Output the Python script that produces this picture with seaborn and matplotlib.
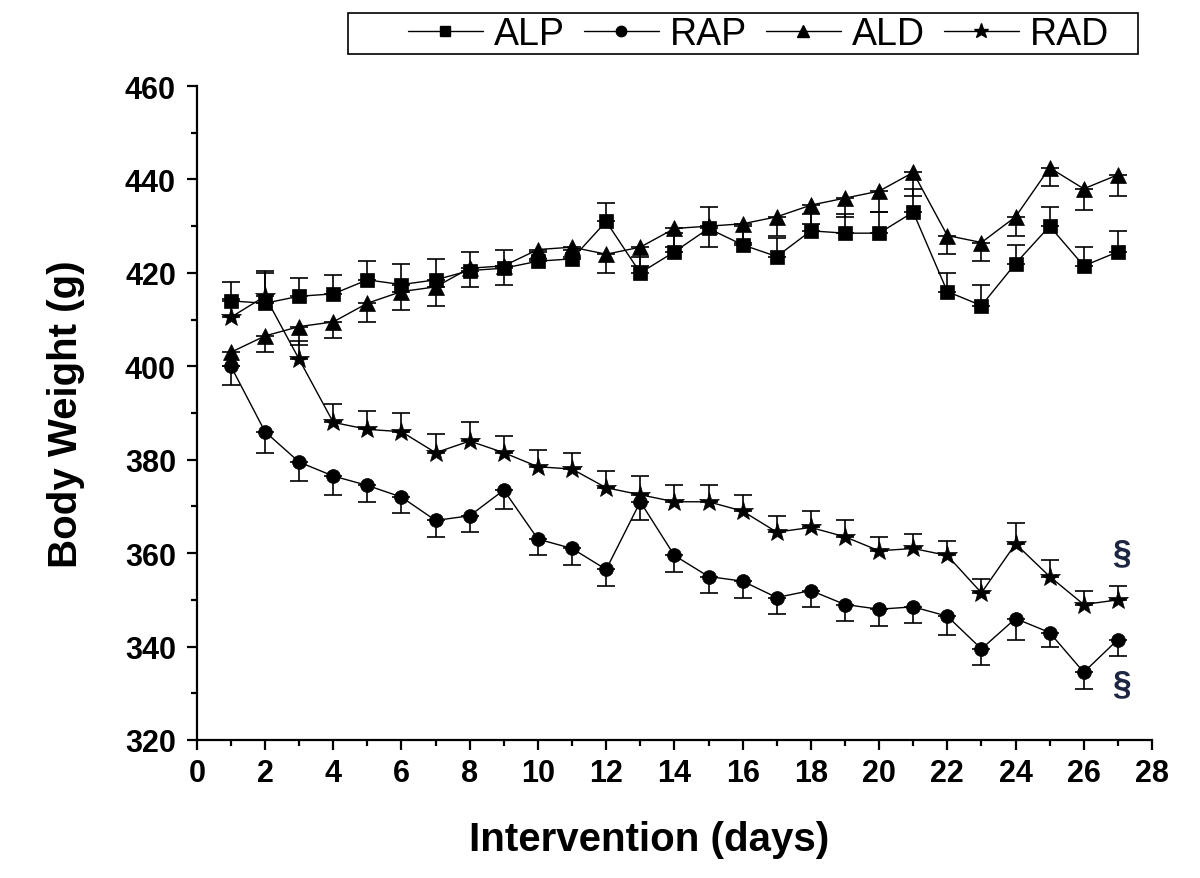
import numpy as np
import pandas as pd
from matplotlib import pyplot as plt
from matplotlib.lines import Line2D
from matplotlib.patches import Rectangle
from matplotlib.ticker import MultipleLocator
import seaborn as sns

days = list(range(1, 28))

# mean body weight (g) per group
alp = [414, 413.5, 415, 415.5, 418.5, 417.5, 418.5, 420.5, 421, 422.5, 423, 431, 420, 424.5,
       429.5, 426, 423.5, 429, 428.5, 428.5, 433, 416, 413, 422, 430, 421.5, 424.5]
rap = [400, 386, 379.5, 376.5, 374.5, 372, 367, 368, 373.5, 363, 361, 356.5, 371, 359.5,
       355, 354, 350.5, 352, 349, 348, 348.5, 346.5, 339.5, 346, 343, 334.5, 341.5]
ald = [403, 406.5, 408.5, 409.5, 413.5, 416, 417, 421, 421.5, 425, 425.5, 424, 425.5, 429.5,
       430, 430.5, 432, 434.5, 436, 437.5, 441.5, 428, 426.5, 432, 442.5, 438, 441]
rad = [410.5, 415, 401.5, 388, 386.5, 386, 381.5, 384, 381.5, 378.5, 378, 374, 372.5, 371,
       371, 369, 364.5, 365.5, 363.5, 360.5, 361, 359.5, 351.5, 362, 355, 349, 350]

# SEM (g), drawn one-sided in the original figure
alp_err = [4, 7, 4, 4, 4, 4.3, 4.5, 4, 4, 2, 2, 4, 3.5, 4, 4.5, 4, 4, 3.5, 4, 4.5, 5, 4, 4.3, 4, 4, 4, 4.5]
rap_err = [4, 4.5, 4, 4, 3.5, 3.5, 3.5, 3.5, 4, 3.5, 3.5, 3.5, 4, 3.5, 3.5, 3.5, 3.5, 3.5, 3.5, 3.5, 3.5, 4, 3.5, 4.5, 3, 3.5, 3.5]
ald_err = [3, 3.5, 4, 3.5, 4, 4, 4, 4, 4, 2, 2, 4, 4, 4, 4.5, 4, 4, 4, 4, 4.5, 5, 4, 4, 4, 4, 4.5, 4.5]
rad_err = [4, 5, 4, 4, 4, 4, 4, 4, 3.5, 3.5, 3.5, 3.5, 4, 3.5, 3.5, 3.5, 3.5, 3.5, 3.5, 3, 3, 3, 3, 4.5, 3.5, 3, 3]

groups = ['ALP', 'RAP', 'ALD', 'RAD']
means = {'ALP': alp, 'RAP': rap, 'ALD': ald, 'RAD': rad}
errs = {'ALP': alp_err, 'RAP': rap_err, 'ALD': ald_err, 'RAD': rad_err}
# which side the error bar is drawn on
err_up = {'ALP': True, 'RAP': False, 'ALD': False, 'RAD': True}
markers = {'ALP': 's', 'RAP': 'o', 'ALD': '^', 'RAD': '*'}
msizes = {'ALP': 10.5, 'RAP': 10, 'ALD': 11.5, 'RAD': 15}

df = pd.DataFrame({
    'day': days * 4,
    'weight': alp + rap + ald + rad,
    'group': np.repeat(groups, len(days)),
})

sns.set_style("ticks", {'text.color': 'black', 'xtick.color': 'black',
                        'ytick.color': 'black', 'axes.labelcolor': 'black',
                        'axes.edgecolor': 'black'})
plt.rcParams['font.family'] = ['Liberation Sans', 'DejaVu Sans']

fig = plt.figure(figsize=(12, 8.79), dpi=100)
ax = fig.add_axes([0.164, 0.157, 0.796, 0.744])

for g in groups:
    sub = df[df.group == g]
    sns.lineplot(data=sub, x='day', y='weight', ax=ax, color='black', linewidth=1,
                 marker=markers[g], markersize=msizes[g], markeredgecolor='black',
                 markeredgewidth=0.5, legend=False, zorder=3)
    e = np.array(errs[g])
    z = np.zeros_like(e)
    yerr = [z, e] if err_up[g] else [e, z]
    ax.errorbar(days, means[g], yerr=yerr, fmt='none', ecolor='black',
                elinewidth=1.2, capsize=6.5, capthick=1.2, zorder=2)

ax.set_xlim(0, 28)
ax.set_ylim(320, 460)
ax.xaxis.set_major_locator(MultipleLocator(2))
ax.xaxis.set_minor_locator(MultipleLocator(1))
ax.yaxis.set_major_locator(MultipleLocator(20))
ax.yaxis.set_minor_locator(MultipleLocator(10))
sns.despine(ax=ax)
for s in ['left', 'bottom']:
    ax.spines[s].set_linewidth(1.6)
ax.tick_params(which='major', direction='out', length=7, width=1.6, labelsize=22,
               colors='black')
ax.tick_params(axis='y', which='major', pad=8)
ax.tick_params(axis='x', which='major', pad=6)
ax.tick_params(which='minor', direction='out', length=4, width=1.6, colors='black')
for lab in ax.get_xticklabels() + ax.get_yticklabels():
    lab.set_fontweight('bold')

ax.set_xlabel('Intervention (days)', fontsize=29, fontweight='bold', color='black')
ax.set_ylabel('Body Weight (g)', fontsize=29, fontweight='bold', color='black')
ax.xaxis.set_label_coords(0.474, -0.123)
ax.yaxis.set_label_coords(-0.117, 0.50)

# significance marks
for yv in [360, 332]:
    ax.text(27.1, yv, '\u00a7', ha='center', va='center', fontsize=24,
            fontweight='bold', color='#1c2541')

# legend in a box above the plot
handles = [Line2D([], [], color='black', lw=1, marker=markers[g],
                  markersize=msizes[g] * 0.75) for g in groups]
fig.patches.append(Rectangle((0.29, 0.937), 0.658, 0.047, transform=fig.transFigure,
                             fill=False, edgecolor='black', lw=1.2))
fig.legend(handles, groups, loc='center', bbox_to_anchor=(0.632, 0.96), ncol=4,
           frameon=False, handlelength=2.0, handletextpad=0.3, columnspacing=0.5,
           prop={'family': ['Liberation Sans Narrow', 'Liberation Sans', 'DejaVu Sans'], 'size': 27})

fig.savefig('out.png', dpi=100)
